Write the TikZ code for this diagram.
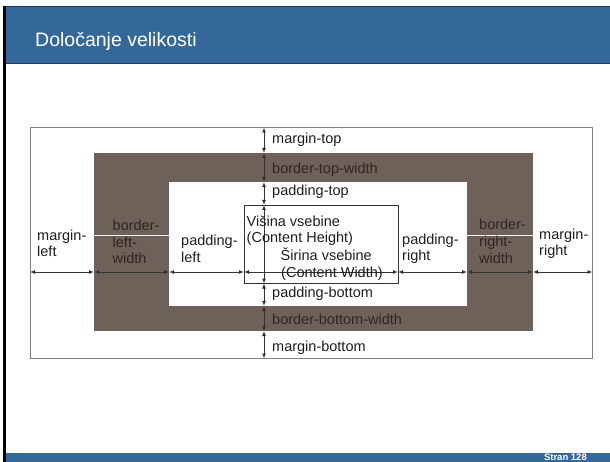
\documentclass[tikz,border=0pt]{standalone}
\usepackage{fontspec}
\setmainfont{Liberation Sans}
\usetikzlibrary{arrows.meta}

\definecolor{barblue}{HTML}{35689A}
\definecolor{bardark}{HTML}{1E3A5A}
\definecolor{boxbrown}{HTML}{6F6159}
\definecolor{inktext}{HTML}{1E1E1E}
\definecolor{browntext}{HTML}{2E2622}
\definecolor{dimline}{HTML}{333333}
\definecolor{edgegray}{HTML}{808080}

\tikzset{
  lbl/.style={anchor=base west, inner sep=0pt, font=\fontsize{14.5}{16.5}\selectfont, text=inktext},
  blbl/.style={lbl, text=browntext},
  dimtip/.tip={Latex[length=5pt,width=4pt]},
  dim/.style={draw=dimline, line width=0.9pt, dimtip-dimtip},
  divider/.style={draw=white, line width=1pt},
}

\begin{document}
\begin{tikzpicture}[x=1pt,y=-1pt]
\useasboundingbox (0,0) rectangle (610,462);

% slide frame: title bar, left rule, footer
\fill[barblue] (3,6) rectangle (610,64);
\draw[bardark, line width=1pt] (3,6.5) -- (610,6.5);
\draw[bardark, line width=1pt] (3,63.5) -- (610,63.5);
\fill[black] (3,6) rectangle (6,462);
\fill[barblue] (6,452.5) rectangle (610,462);
\node[anchor=base west, inner sep=0pt, text=white, font=\fontsize{19.5}{22}\selectfont] (title) at (35,46.5) {Določanje velikosti};
\node[anchor=base east, inner sep=0pt, text=white, font=\bfseries\fontsize{9.5}{11}\selectfont] (pageno) at (587,460.5) {Stran 128};

% box model layers
\draw[edgegray, line width=1pt, fill=white] (30,127.5) rectangle (592.5,358.5);
\fill[boxbrown] (94,153) rectangle (533,331);
\fill[white] (169,182) rectangle (467,306);
\draw[dimline, line width=0.9pt] (244,205) rectangle (398,283.5);
\draw[divider] (94,236) -- (169,236);
\draw[divider] (467,236) -- (533,236);

% horizontal dimension stops
\foreach \n/\x in {0/30,1/94,2/169,3/244,4/398,5/467,6/533,7/592.5}
  \coordinate (h\n) at (\x,272);
% vertical dimension stops
\foreach \n/\y in {0/127.5,1/153,2/182,3/205,4/283.5,5/306,6/331,7/358.5}
  \coordinate (v\n) at (264,\y);

\foreach \a/\b in {0/1,1/2,2/3,3/4,4/5,5/6,6/7} {
  \draw[dim] (h\a) -- (h\b);
  \draw[dim] (v\a) -- (v\b);
}

% labels along the vertical line
\node[lbl]  (mtop) at (272,144) {margin-top};
\node[blbl] (btop) at (272,174) {border-top-width};
\node[lbl]  (ptop) at (272,196) {padding-top};
\node[lbl]  (ch1)  at (246.5,227) {Višina vsebine};
\node[lbl]  (ch2)  at (246.5,243) {(Content Height)};
\node[lbl]  (cw1)  at (280.5,261) {Širina vsebine};
\node[lbl]  (cw2)  at (281,277.5) {(Content Width)};
\node[lbl]  (pbot) at (272,298) {padding-bottom};
\node[blbl] (bbot) at (272,324) {border-bottom-width};
\node[lbl]  (mbot) at (272,351) {margin-bottom};

% labels along the horizontal line
\node[lbl]  (ml1) at (37,240.5) {margin-};
\node[lbl]  (ml2) at (37,256.5) {left};
\node[blbl] (bl1) at (112.5,230.5) {border-};
\node[blbl] (bl2) at (112.5,247.5) {left-};
\node[blbl] (bl3) at (112.5,264) {width};
\node[lbl]  (pl1) at (181,246) {padding-};
\node[lbl]  (pl2) at (181,262) {left};
\node[lbl]  (pr1) at (402,245) {padding-};
\node[lbl]  (pr2) at (402,260.5) {right};
\node[blbl] (br1) at (479,230) {border-};
\node[blbl] (br2) at (479,247) {right-};
\node[blbl] (br3) at (479,263.5) {width};
\node[lbl]  (mr1) at (539,240) {margin-};
\node[lbl]  (mr2) at (539,256) {right};
\end{tikzpicture}
\end{document}
